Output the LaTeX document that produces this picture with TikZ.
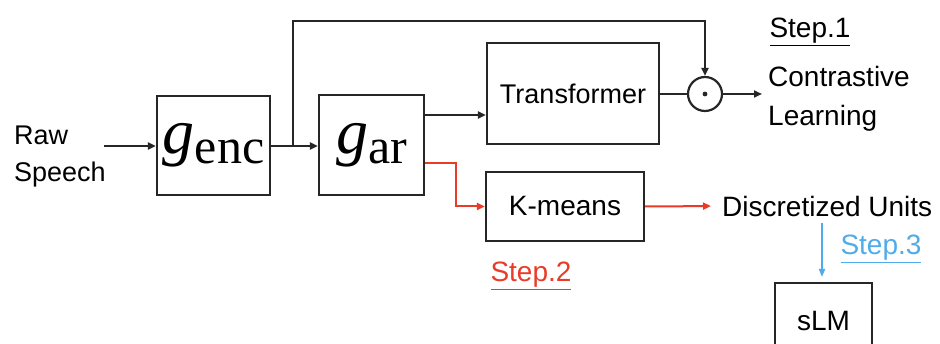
\documentclass[tikz,border=0pt]{standalone}
\usepackage{fontspec}
\setmainfont{Liberation Sans}
\newfontfamily\seriffont{Liberation Serif}
\usetikzlibrary{arrows.meta,calc}
\definecolor{stepred}{RGB}{234,58,40}
\definecolor{stepblue}{RGB}{80,172,232}
\newcommand{\fsz}[1]{\fontsize{#1}{#1}\selectfont}
\newcommand{\gsym}[1]{{\seriffont\fsz{64}\itshape g}\raisebox{-10pt}{\seriffont\fsz{50}#1}}
\tikzset{
  box/.style={draw=black!85, line width=2.2pt, inner sep=0pt},
  arr/.style={draw=black!85, line width=2pt, -{Triangle[length=8pt,width=7pt]}},
  line/.style={draw=black!85, line width=2pt},
  redarr/.style={draw=stepred, line width=2pt, -{Triangle[length=8pt,width=7pt]}},
  bluearr/.style={draw=stepblue, line width=1.8pt, -{Triangle[length=8pt,width=6pt]}},
  lbl/.style={inner sep=0pt, font=\fsz{28}},
}
\begin{document}
\begin{tikzpicture}[x=1pt,y=-1pt]
  \useasboundingbox (0,0) rectangle (940,344);
  \clip (0,0) rectangle (940,344);

  % input text
  \node[lbl, align=left, anchor=west, font=\fsz{27}] (raw) at (14,157) {Raw\\[10pt]Speech};

  % blocks
  \node[box, minimum width=113pt, minimum height=99pt] (genc) at (213.5,145.5) {\gsym{enc}};
  \node[box, minimum width=105pt, minimum height=100pt] (gar) at (371.5,145) {\gsym{ar}};
  \node[box, minimum width=172pt, minimum height=101pt, font=\fsz{27}] (trans) at (573,93.5) {Transformer};
  \node[box, minimum width=158pt, minimum height=69pt, font=\fsz{28}] (km) at (565,206.5) {K-means};
  \node[box, minimum width=97pt, minimum height=90pt, font=\fsz{28}] (slm) at (823.5,328) {};
  \node[lbl] (slmtxt) at (823.5,321) {sLM};
  \node[draw=black!85, line width=2.2pt, circle, minimum size=34pt, inner sep=0pt] (dot) at (705,94) {};
  \fill[black!85] (dot.center) circle (2.4pt);

  % labels
  \node[lbl] (step1) at (810,32) {\underline{Step.1}};
  \node[lbl, align=left, anchor=west] (contr) at (768,99) {Contrastive\\[11pt]Learning};
  \node[lbl, anchor=west] (units) at (722,206) {Discretized Units};
  \node[lbl, text=stepred] (step2) at (531,276) {\underline{Step.2}};
  \node[lbl, text=stepblue] (step3) at (881,249) {\underline{Step.3}};

  % connectors
  \coordinate (split) at (293,146);
  \coordinate (garup) at ([yshift=30pt]gar.east);
  \coordinate (gardn) at ([yshift=-18pt]gar.east);
  \coordinate (unitsdrop) at (822,223);
  \draw[arr] (104,146) -- (genc.west |- 0,146);
  \draw[arr] (genc.east |- split) -- (gar.west |- split);
  \draw[arr] (split) -- (293,21) -| (dot.north);
  \draw[arr] (garup) -- (garup -| trans.west);
  \draw[line] (trans.east |- dot.west) -- (dot.west);
  \draw[arr] (dot.east) -- (762,94);
  \draw[redarr] (gardn) -- ([xshift=31pt]gardn) |- (km.west);
  \draw[redarr, shorten >=11pt] (km.east) -- (units.west);
  \draw[bluearr] (unitsdrop) -- (822,277);
\end{tikzpicture}
\end{document}
